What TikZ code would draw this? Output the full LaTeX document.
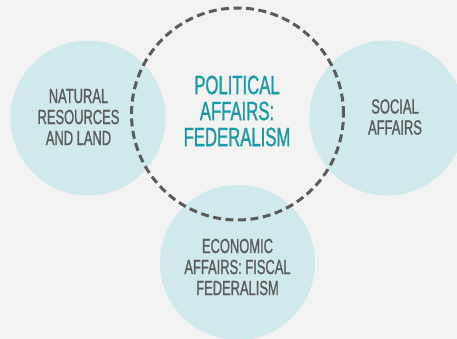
\documentclass[tikz,border=0pt]{standalone}
\usepackage{fontspec}
\setmainfont[FakeStretch=0.63,FakeBold=1.0]{Liberation Sans}
\definecolor{bg}{HTML}{F2F2F2}
\definecolor{bubble}{HTML}{CFE9ED}
\definecolor{txtgray}{HTML}{5C5C5C}
\definecolor{teal}{HTML}{1B9AA8}
\definecolor{dashgray}{HTML}{5B5B59}
\tikzset{
  bubble/.style={circle, fill=bubble, minimum size=155pt, inner sep=0pt},
  smalltxt/.style={align=center, inner sep=0pt, text=txtgray, font=\fontsize{20.5}{21}\selectfont},
  bigtxt/.style={align=center, inner sep=0pt, text=teal, font=\fontsize{26.5}{26}\selectfont},
  dashring/.style={circle, draw=dashgray, line width=3pt, dash pattern=on 8pt off 4.5pt, minimum size=212pt, inner sep=0pt}
}
\begin{document}
\begin{tikzpicture}[x=1pt,y=-1pt]
\path[fill=bg] (0,0) rectangle (457,339);
\useasboundingbox (0,0) rectangle (457,339);
\begin{scope}
\clip (0,0) rectangle (457,339);
\node[bubble] (left) at (88,118) {};
\node[bubble] (right) at (387,118) {};
\node[bubble] (bottom) at (237.5,262.5) {};
\node[dashring] (center) at (237.5,114) {};
\end{scope}
\node[smalltxt] (lt) at (78.5,117) {NATURAL\\RESOURCES\\AND LAND};
\node[smalltxt] (rt) at (395,117) {SOCIAL\\AFFAIRS};
\node[smalltxt] (bt) at (237.5,267) {ECONOMIC\\AFFAIRS: FISCAL\\FEDERALISM};
\node[bigtxt] (ct) at (237,111) {POLITICAL\\AFFAIRS:\\FEDERALISM};
\end{tikzpicture}
\end{document}
